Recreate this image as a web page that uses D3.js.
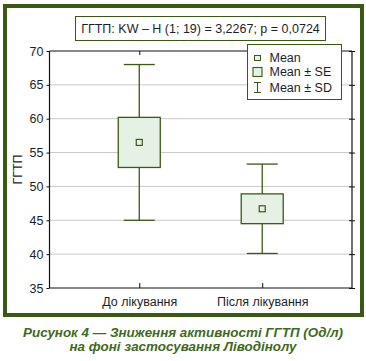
<!DOCTYPE html>
<html><head><meta charset="utf-8">
<script src="https://cdn.jsdelivr.net/npm/d3@7"></script>
<style>body{margin:0;background:#fff}svg{display:block}text{font-family:"Liberation Sans",Arial,sans-serif}</style>
</head><body><svg id="c" width="366" height="361"></svg>
<script>
const categories = ["До лікування", "Після лікування"];
const means = [56.5, 46.7];
const se = [3.7, 2.2];
const sd = [11.5, 6.6];
const yTicks = [35, 40, 45, 50, 55, 60, 65, 70];
const title = "ГГТП: KW – H (1; 19) = 3,2267; p = 0,0724";
const yLabel = "ГГТП";
const legendItems = ["Mean", "Mean ± SE", "Mean ± SD"];
const caption = ["Рисунок 4 — Зниження активності ГГТП (Од/л)", "на фоні застосування Ліводінолу"];

const G = "#3a5a14", FILL = "#e5f1e4", TXT = "#1e1e2a";
const svg = d3.select("#c");
const L = 49.5, R = 352, T = 51, B = 288;
const x = d3.scalePoint().domain(categories).range([L, R]).padding(0.73);
const y = d3.scaleLinear().domain([35, 70]).range([B, T]);

// outer frame
svg.append("rect").attr("x", 5).attr("y", 6).attr("width", 357).attr("height", 309)
  .attr("fill", "none").attr("stroke", G).attr("stroke-width", 4);

// grid
svg.append("g").selectAll("line").data(yTicks.filter(d => d > 35 && d < 70)).join("line")
  .attr("x1", L).attr("x2", R).attr("y1", d => y(d)).attr("y2", d => y(d))
  .attr("stroke", "#c8c8c8").attr("stroke-width", 1);

// axes
const yl = svg.append("g").attr("transform", `translate(${L},0)`)
  .call(d3.axisLeft(y).tickValues(yTicks).tickSize(3).tickPadding(3));
const yr = svg.append("g").attr("transform", `translate(${R},0)`)
  .call(d3.axisRight(y).tickValues(yTicks).tickSize(3).tickFormat(""));
yr.selectAll(".tick line").attr("x1", -3);
const xb = svg.append("g").attr("transform", `translate(0,${B})`)
  .call(d3.axisBottom(x).tickSize(-5).tickPadding(9));
const xt = svg.append("g").attr("transform", `translate(0,${T})`)
  .call(d3.axisTop(x).tickSize(-4).tickFormat(""));
[yl, yr, xb, xt].forEach(g => {
  g.select(".domain").attr("stroke", "#111").attr("stroke-width", 1.2);
  g.selectAll(".tick line").attr("stroke", "#111");
  g.selectAll("text").attr("fill", TXT).attr("font-size", 12.5).attr("font-family", "Liberation Sans, Arial, sans-serif");
});
yl.select(".domain").attr("d", `M0,${T}V${B}`);
yr.select(".domain").attr("d", `M0,${T}V${B}`);
xb.select(".domain").attr("d", `M${L},0H${R}`);
xt.select(".domain").attr("d", `M${L},0H${R}`);
xb.selectAll("text").attr("dy", "0.71em");

// y label
svg.append("text").attr("transform", `translate(22,${(T + B) / 2}) rotate(-90)`)
  .attr("text-anchor", "middle").attr("fill", TXT).attr("font-size", 12.5).text(yLabel);

// boxes
const data = categories.map((c, i) => ({c, m: means[i], se: se[i], sd: sd[i]}));
const g = svg.append("g");
g.selectAll(".wh").data(data).join("line")
  .attr("x1", d => x(d.c)).attr("x2", d => x(d.c))
  .attr("y1", d => y(d.m + d.sd)).attr("y2", d => y(d.m - d.sd))
  .attr("stroke", G).attr("stroke-width", 1.3);
["cap1", "cap2"].forEach((k, j) => {
  g.selectAll("." + k).data(data).join("line")
    .attr("x1", d => x(d.c) - 15.5).attr("x2", d => x(d.c) + 15.5)
    .attr("y1", d => y(j ? d.m - d.sd : d.m + d.sd)).attr("y2", d => y(j ? d.m - d.sd : d.m + d.sd))
    .attr("stroke", G).attr("stroke-width", 1.3);
});
g.selectAll(".box").data(data).join("rect")
  .attr("x", d => x(d.c) - 21).attr("width", 42)
  .attr("y", d => y(d.m + d.se)).attr("height", d => y(d.m - d.se) - y(d.m + d.se))
  .attr("fill", FILL).attr("stroke", G).attr("stroke-width", 1.3);
g.selectAll(".mean").data(data).join("rect")
  .attr("x", d => x(d.c) - 3).attr("y", d => y(d.m) - 3).attr("width", 6).attr("height", 6)
  .attr("fill", FILL).attr("stroke", G).attr("stroke-width", 1.2);

// title box
svg.append("rect").attr("x", 75.5).attr("y", 16.5).attr("width", 250).attr("height", 24)
  .attr("fill", "#fff").attr("stroke", G).attr("stroke-width", 1);
svg.append("text").attr("x", 200.5).attr("y", 33).attr("text-anchor", "middle")
  .attr("fill", TXT).attr("font-size", 12.5).text(title);

// legend
const lg = svg.append("g");
lg.append("rect").attr("x", 247.5).attr("y", 44.5).attr("width", 94).attr("height", 55)
  .attr("fill", "#fff").attr("stroke", G).attr("stroke-width", 1);
const ly = [57.5, 72, 87.5];
lg.append("rect").attr("x", 254.5).attr("y", ly[0] - 2).attr("width", 6).attr("height", 5)
  .attr("fill", FILL).attr("stroke", G).attr("stroke-width", 1);
lg.append("rect").attr("x", 253).attr("y", ly[1] - 4.5).attr("width", 9).attr("height", 9)
  .attr("fill", FILL).attr("stroke", G).attr("stroke-width", 1.1);
lg.append("path").attr("d", `M254,${ly[2] - 5}H261M257.5,${ly[2] - 5}V${ly[2] + 5}M254,${ly[2] + 5}H261`)
  .attr("fill", "none").attr("stroke", G).attr("stroke-width", 1.1);
lg.selectAll(".lt").data(legendItems).join("text")
  .attr("x", 269.5).attr("y", (d, i) => ly[i]).attr("dy", "0.35em")
  .attr("fill", TXT).attr("font-size", 12.5).text(d => d);

// caption
svg.selectAll(".cap").data(caption).join("text")
  .attr("x", 183).attr("y", (d, i) => 337 + i * 13.5).attr("text-anchor", "middle")
  .attr("fill", "#3f6a1c").attr("font-size", 13.4).attr("font-weight", "bold").attr("font-style", "italic")
  .text(d => d);
</script></body></html>
